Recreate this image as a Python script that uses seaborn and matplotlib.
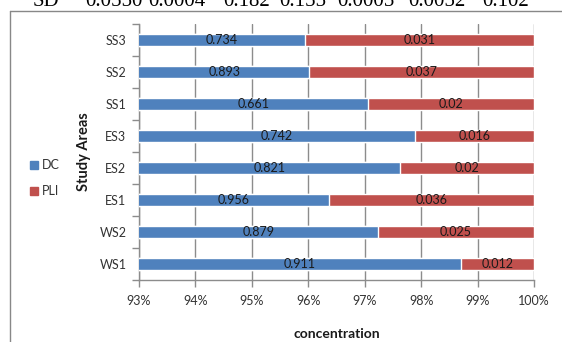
import numpy as np
import pandas as pd
import matplotlib
matplotlib.use("Agg")
import matplotlib.pyplot as plt
from matplotlib.lines import Line2D
import seaborn as sns

# Study areas (top to bottom) with degree of contamination and pollution load index
areas = ["SS3", "SS2", "SS1", "ES3", "ES2", "ES1", "WS2", "WS1"]
dc = [0.734, 0.893, 0.661, 0.742, 0.821, 0.956, 0.879, 0.911]
pli = [0.031, 0.037, 0.02, 0.016, 0.02, 0.036, 0.025, 0.012]

# Row of standard deviations from the table printed above the chart
sd_label = "SD"
sd_values = ["0.0550", "0.0004", "0.182", "0.155", "0.0005", "0.0052", "0.102"]

x_ticks = [93, 94, 95, 96, 97, 98, 99, 100]

df = pd.DataFrame({"area": areas, "DC": dc, "PLI": pli})
df["total"] = 100.0
df["dc_share"] = df["DC"] / (df["DC"] + df["PLI"]) * 100

sns.set_theme(style="white")
plt.rcParams["font.family"] = ["Lato", "DejaVu Sans"]

W, H = 562, 342
fig = plt.figure(figsize=(W / 100, H / 100), dpi=100)
ax = fig.add_axes([139 / W, 1 - 280 / H, (534 - 139) / W, (280 - 24) / H])

blue = "#4F81BD"
red = "#C0504D"
grid_c = "#8C8C8C"

sns.barplot(data=df, y="area", x="total", order=areas, color=red, width=0.4,
            orient="h", ax=ax, saturation=1, zorder=3)
sns.barplot(data=df, y="area", x="dc_share", order=areas, color=blue, width=0.4,
            orient="h", ax=ax, saturation=1, zorder=4)

ax.set_xlim(93, 100)
ax.set_ylim(len(areas) - 0.5, -0.5)

# Value labels centred on the visible part of each segment
for i, row in df.iterrows():
    ax.text((93 + row["dc_share"]) / 2, i, f"{row['DC']:g}", ha="center",
            va="center", fontsize=9, color="#1a1a1a", zorder=6)
    ax.text((row["dc_share"] + 100) / 2, i, f"{row['PLI']:g}", ha="center",
            va="center", fontsize=9, color="#1a1a1a", zorder=6)

ax.set_xticks(x_ticks)
ax.set_xticklabels([f"{t}%" for t in x_ticks])
ax.xaxis.grid(True, color=grid_c, linewidth=1.0, zorder=0)
ax.set_axisbelow(True)

ax.set_yticks(range(len(areas)))
ax.set_yticklabels(areas)
ax.set_yticks(np.arange(-0.5, len(areas)), minor=True)
ax.tick_params(axis="y", which="major", length=0, pad=9, labelsize=9,
               labelcolor="#333333")
ax.tick_params(axis="y", which="minor", length=5, color=grid_c, width=1,
               direction="out", left=True)
ax.tick_params(axis="x", which="major", length=5, color=grid_c, width=1,
               direction="out", bottom=True, labelsize=9,
               labelcolor="#333333", pad=6)

for s in ["top", "right"]:
    ax.spines[s].set_visible(False)
for s in ["left", "bottom"]:
    ax.spines[s].set_color(grid_c)
    ax.spines[s].set_linewidth(1.0)

ax.set_xlabel("concentration", fontsize=10, fontweight="bold", labelpad=15,
              color="#1a1a1a")
ax.set_ylabel("Study Areas", fontsize=10.5, fontweight="bold", labelpad=6,
              color="#1a1a1a")

# Legend on the left side
handles = [
    Line2D([], [], marker="s", linestyle="", markersize=6, color=blue),
    Line2D([], [], marker="s", linestyle="", markersize=6, color=red),
]
fig.legend(handles, ["DC", "PLI"], loc="center left",
           bbox_to_anchor=(18 / W, 1 - 178 / H), frameon=False, fontsize=9,
           handlelength=0.7, handletextpad=0.3, labelspacing=1.1,
           labelcolor="#333333")

# Chart border
fig.add_artist(Line2D([9.5 / W, 1], [1 - 10.5 / H, 1 - 10.5 / H],
                      transform=fig.transFigure, color="#888888", lw=1))
fig.add_artist(Line2D([9.5 / W, 9.5 / W], [0, 1 - 10.5 / H],
                      transform=fig.transFigure, color="#888888", lw=1))

# Standard deviation row of the table above
serif = ["Liberation Serif", "DejaVu Serif"]
fig.text(33 / W, 1 - 6 / H, sd_label, fontsize=15, family=serif,
         va="baseline", ha="left", color="black")
sd_x = [85, 148, 223, 279, 337, 408, 482]
for x, v in zip(sd_x, sd_values):
    fig.text(x / W, 1 - 6 / H, v, fontsize=15, family=serif,
             va="baseline", ha="left", color="black")

fig.savefig("out.png", dpi=100)
